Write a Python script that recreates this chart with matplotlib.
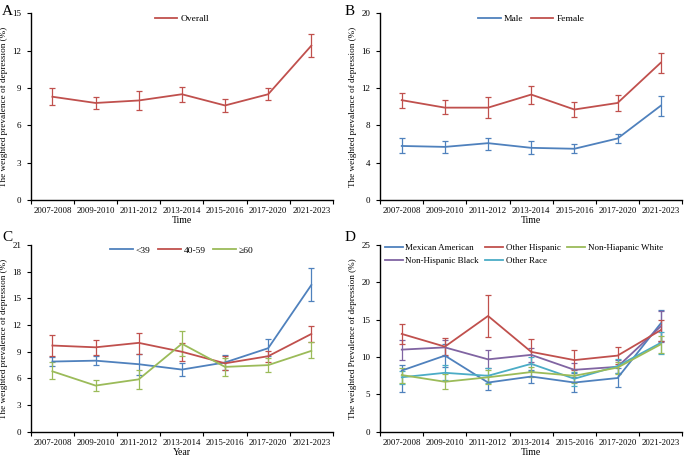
import matplotlib
matplotlib.use('Agg')
import matplotlib.pyplot as plt
import numpy as np

plt.rcParams['font.family'] = ['Liberation Serif', 'DejaVu Serif']

periods = ['2007-2008', '2009-2010', '2011-2012', '2013-2014',
           '2015-2016', '2017-2020', '2021-2023']

# Panel A - overall
overall = [8.3, 7.8, 8.0, 8.5, 7.6, 8.5, 12.4]
overall_lo = [7.6, 7.3, 7.2, 7.9, 7.1, 8.0, 11.5]
overall_hi = [9.0, 8.3, 8.8, 9.1, 8.1, 9.0, 13.3]

# Panel B - sex
male = [5.8, 5.7, 6.1, 5.6, 5.5, 6.6, 10.1]
male_lo = [5.1, 5.1, 5.4, 4.9, 5.0, 6.1, 9.0]
male_hi = [6.6, 6.3, 6.7, 6.3, 6.0, 7.1, 11.1]
female = [10.7, 9.9, 9.9, 11.3, 9.7, 10.4, 14.7]
female_lo = [9.9, 9.2, 8.8, 10.3, 8.9, 9.5, 13.6]
female_hi = [11.5, 10.7, 11.0, 12.2, 10.5, 11.3, 15.8]

# Panel C - age
age_u39 = [7.9, 8.0, 7.6, 7.0, 7.8, 9.4, 16.5]
age_u39_lo = [7.4, 7.5, 6.4, 6.3, 7.0, 8.5, 14.7]
age_u39_hi = [8.4, 8.5, 8.7, 7.7, 8.6, 10.4, 18.4]
age_40 = [9.7, 9.5, 10.0, 9.0, 7.7, 8.5, 11.0]
age_40_lo = [8.5, 8.6, 8.8, 8.0, 6.9, 7.9, 10.1]
age_40_hi = [10.9, 10.3, 11.1, 10.0, 8.5, 9.1, 11.9]
age_60 = [6.8, 5.2, 5.9, 9.9, 7.3, 7.5, 9.1]
age_60_lo = [5.9, 4.6, 4.8, 8.5, 6.3, 6.7, 8.3]
age_60_hi = [7.8, 5.8, 7.0, 11.3, 8.3, 8.3, 10.1]

# Panel D - race
mex = [8.2, 10.2, 6.6, 7.4, 6.6, 7.2, 14.5]
mex_lo = [5.3, 8.7, 5.6, 6.5, 5.3, 6.0, 12.1]
mex_hi = [9.0, 11.7, 7.6, 8.3, 7.9, 8.5, 16.3]
oth_hisp = [13.1, 11.4, 15.5, 10.7, 9.6, 10.2, 13.6]
oth_hisp_lo = [11.7, 10.3, 12.7, 9.1, 8.3, 9.1, 12.2]
oth_hisp_hi = [14.4, 12.5, 18.3, 12.4, 11.0, 11.3, 15.0]
nh_white = [7.6, 6.7, 7.3, 8.0, 7.5, 8.6, 11.7]
nh_white_lo = [6.6, 5.7, 6.4, 7.3, 6.6, 7.8, 10.6]
nh_white_hi = [8.6, 7.7, 8.3, 8.7, 8.4, 9.4, 12.8]
nh_black = [11.0, 11.3, 9.7, 10.3, 8.3, 8.7, 14.1]
nh_black_lo = [9.6, 10.2, 8.5, 9.3, 7.4, 7.9, 12.0]
nh_black_hi = [12.3, 12.3, 10.9, 11.2, 9.2, 9.6, 16.2]
oth_race = [7.3, 7.9, 7.5, 9.1, 7.1, 8.8, 11.9]
oth_race_lo = [6.4, 6.9, 6.5, 8.2, 6.2, 7.9, 10.4]
oth_race_hi = [8.2, 8.9, 8.5, 10.0, 8.0, 9.7, 13.4]

BLUE = '#4F81BD'
RED = '#C0504D'
GREEN = '#9BBB59'
PURPLE = '#8064A2'
CYAN = '#4BACC6'

fig = plt.figure(figsize=(6.85, 4.57), dpi=100)


def setup_axes(ax, ymax, ystep, xlabel, ylabel):
    n = len(periods)
    ax.set_xlim(-0.5, n - 0.5)
    ax.set_ylim(0, ymax)
    ax.set_yticks(np.arange(0, ymax + 0.01, ystep))
    ax.set_xticks(np.arange(n + 1) - 0.5)
    ax.set_xticklabels([])
    ax.set_xticks(np.arange(n), minor=True)
    ax.set_xticklabels(periods, minor=True)
    ax.tick_params(axis='x', which='major', direction='out', length=3, width=0.8)
    ax.tick_params(axis='x', which='minor', length=0, labelsize=6.3, pad=5)
    ax.tick_params(axis='y', direction='out', length=3, width=0.8,
                   labelsize=6.5, pad=4)
    for s in ['top', 'right']:
        ax.spines[s].set_visible(False)
    for s in ['left', 'bottom']:
        ax.spines[s].set_linewidth(1.0)
    ax.set_xlabel(xlabel, fontsize=7, labelpad=1)
    ax.set_ylabel(ylabel, fontsize=6.6, labelpad=3)


def draw(ax, vals, lo, hi, color, label):
    x = np.arange(len(vals))
    v = np.array(vals)
    err = [v - np.array(lo), np.array(hi) - v]
    ax.errorbar(x, v, yerr=err, color=color, lw=1.3, elinewidth=0.9,
                capsize=2, capthick=0.9, label=label)


def legend(ax, fontsize=6.8, **kw):
    handles, labels = ax.get_legend_handles_labels()
    handles = [h[0] for h in handles]
    ax.legend(handles, labels, frameon=False, fontsize=fontsize,
              handletextpad=0.3, borderaxespad=0.1, **kw)


ylab = 'The weighted prevalence of depression (%)'

# A
axA = fig.add_axes([0.045, 0.562, 0.441, 0.409])
setup_axes(axA, 15, 3, 'Time', ylab)
draw(axA, overall, overall_lo, overall_hi, RED, 'Overall')
legend(axA, loc='upper center', bbox_to_anchor=(0.5, 1.02), handlelength=2.4)

# B
axB = fig.add_axes([0.555, 0.562, 0.441, 0.409])
setup_axes(axB, 20, 4, 'Time', ylab)
draw(axB, male, male_lo, male_hi, BLUE, 'Male')
draw(axB, female, female_lo, female_hi, RED, 'Female')
legend(axB, loc='upper center', bbox_to_anchor=(0.5, 1.02), ncol=2,
       columnspacing=0.8, handlelength=2.4)

# C
axC = fig.add_axes([0.045, 0.055, 0.441, 0.409])
setup_axes(axC, 21, 3, 'Year', ylab)
draw(axC, age_u39, age_u39_lo, age_u39_hi, BLUE, '<39')
draw(axC, age_40, age_40_lo, age_40_hi, RED, '40-59')
draw(axC, age_60, age_60_lo, age_60_hi, GREEN, '≥60')
legend(axC, loc='upper center', bbox_to_anchor=(0.5, 1.02), ncol=3,
       columnspacing=0.8, handlelength=2.4)

# D
axD = fig.add_axes([0.555, 0.055, 0.441, 0.409])
setup_axes(axD, 25, 5, 'Time', 'The weighted Prevalence of depression (%)')
draw(axD, mex, mex_lo, mex_hi, BLUE, 'Mexican American')
draw(axD, nh_black, nh_black_lo, nh_black_hi, PURPLE, 'Non-Hispanic Black')
draw(axD, oth_hisp, oth_hisp_lo, oth_hisp_hi, RED, 'Other Hispanic')
draw(axD, oth_race, oth_race_lo, oth_race_hi, CYAN, 'Other Race')
draw(axD, nh_white, nh_white_lo, nh_white_hi, GREEN, 'Non-Hiapanic White')
legend(axD, fontsize=6.5, loc='upper left', bbox_to_anchor=(0.0, 1.03), ncol=3,
       columnspacing=0.7, labelspacing=0.5, handlelength=2.0)

for lab, xx, yy in [('A', 0.003, 0.99), ('B', 0.503, 0.99),
                    ('C', 0.003, 0.495), ('D', 0.503, 0.495)]:
    fig.text(xx, yy, lab, fontsize=11, va='top', ha='left')

fig.savefig('out.png', dpi=100)
